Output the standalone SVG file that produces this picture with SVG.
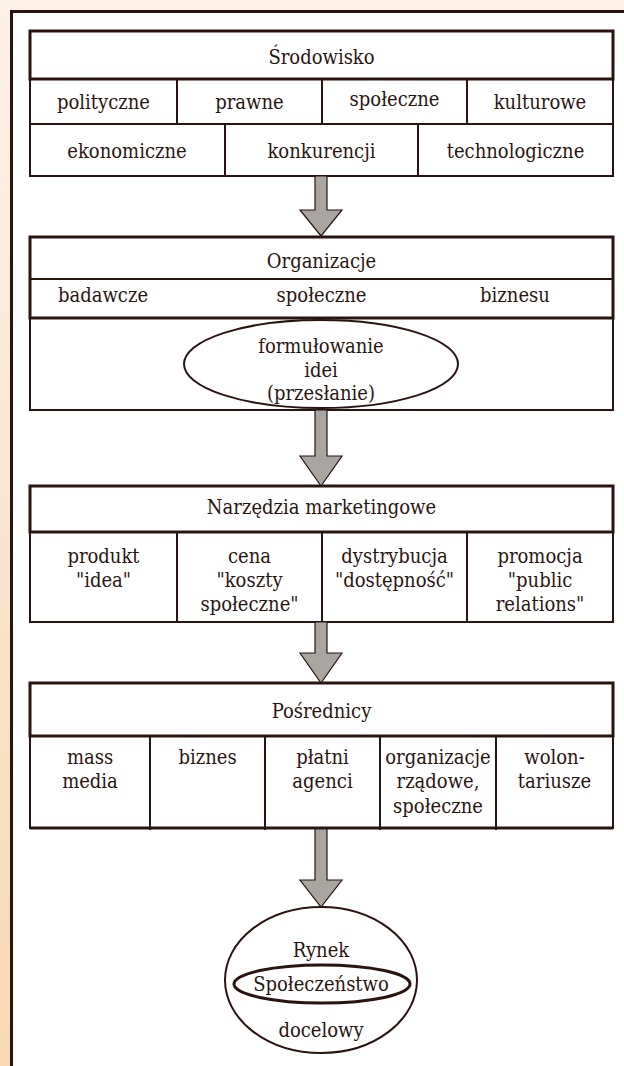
<svg xmlns="http://www.w3.org/2000/svg" width="624" height="1066" viewBox="0 0 624 1066">
  <defs>
    <linearGradient id="bg" x1="0" y1="0" x2="0" y2="1">
      <stop offset="0" stop-color="#fdf1e8"/>
      <stop offset="1" stop-color="#f8d8b6"/>
    </linearGradient>
    <style>
      .thick { fill: #ffffff; stroke: #2a1410; stroke-width: 3; }
      .thin { fill: #ffffff; stroke: #2a1410; stroke-width: 2; }
      .div { stroke: #2a1410; stroke-width: 2; }
      .arrow { fill: #a9a5a1; stroke: #2a1410; stroke-width: 1.2; stroke-linejoin: miter; }
    </style>
  </defs>
  <rect x="0" y="0" width="624" height="1066" fill="url(#bg)"/>
  <rect x="11.5" y="11.5" width="700" height="1100" fill="#ffffff" stroke="#2a1410" stroke-width="3"/>

  <g font-family="DejaVu Serif Condensed, DejaVu Serif, Liberation Serif, serif" font-size="20" fill="#2a1410" text-anchor="middle">
  <g id="srodowisko">
    <rect class="thin" x="30" y="79" width="583" height="97"/>
    <line class="div" x1="30" y1="124" x2="613" y2="124"/>
    <line class="div" x1="177" y1="79" x2="177" y2="124"/>
    <line class="div" x1="322" y1="79" x2="322" y2="124"/>
    <line class="div" x1="467" y1="79" x2="467" y2="124"/>
    <line class="div" x1="225" y1="124" x2="225" y2="176"/>
    <line class="div" x1="418" y1="124" x2="418" y2="176"/>
    <rect class="thick" x="30" y="31" width="583" height="48"/>
    <text x="321.5" y="64">Środowisko</text>
    <text x="103.5" y="109">polityczne</text>
    <text x="249.5" y="109">prawne</text>
    <text x="394.5" y="106">społeczne</text>
    <text x="540" y="109">kulturowe</text>
    <text x="127" y="158">ekonomiczne</text>
    <text x="321.5" y="158">konkurencji</text>
    <text x="515.5" y="158">technologiczne</text>
  </g>

  <g id="organizacje">
    <rect class="thin" x="30" y="318" width="583" height="92"/>
    <rect class="thick" x="30" y="237" width="583" height="81"/>
    <line class="div" x1="30" y1="279" x2="613" y2="279"/>
    <text x="321.5" y="268">Organizacje</text>
    <text x="103" y="302">badawcze</text>
    <text x="321.5" y="302">społeczne</text>
    <text x="515" y="302">biznesu</text>
    <ellipse cx="321" cy="364" rx="137" ry="44" fill="none" stroke="#2a1410" stroke-width="2"/>
    <text x="321" y="353">formułowanie</text>
    <text x="321" y="377">idei</text>
    <text x="321" y="400">(przesłanie)</text>
  </g>

  <g id="narzedzia">
    <rect class="thin" x="30" y="532" width="583" height="90"/>
    <line class="div" x1="177" y1="532" x2="177" y2="622"/>
    <line class="div" x1="322" y1="532" x2="322" y2="622"/>
    <line class="div" x1="467" y1="532" x2="467" y2="622"/>
    <rect class="thick" x="30" y="486" width="583" height="46"/>
    <text x="321.5" y="514">Narzędzia marketingowe</text>
    <text x="103.5" y="563">produkt</text>
    <text x="103.5" y="587">"idea"</text>
    <text x="249.5" y="563">cena</text>
    <text x="249.5" y="587">"koszty</text>
    <text x="249.5" y="611">społeczne"</text>
    <text x="394.5" y="563">dystrybucja</text>
    <text x="394.5" y="587">"dostępność"</text>
    <text x="540" y="563">promocja</text>
    <text x="540" y="587">"public</text>
    <text x="540" y="611">relations"</text>
  </g>

  <g id="posrednicy">
    <rect class="thin" x="30" y="736" width="583" height="92"/>
    <line x1="30" y1="828" x2="613" y2="828" stroke="#2a1410" stroke-width="3"/>
    <line class="div" x1="150" y1="736" x2="150" y2="830"/>
    <line class="div" x1="265" y1="736" x2="265" y2="830"/>
    <line class="div" x1="380" y1="736" x2="380" y2="830"/>
    <line class="div" x1="496" y1="736" x2="496" y2="830"/>
    <rect class="thick" x="30" y="683" width="583" height="53"/>
    <text x="321.5" y="718">Pośrednicy</text>
    <text x="90" y="764">mass</text>
    <text x="90" y="788">media</text>
    <text x="207.5" y="764">biznes</text>
    <text x="322.5" y="764">płatni</text>
    <text x="322.5" y="788">agenci</text>
    <text x="438" y="764">organizacje</text>
    <text x="438" y="788">rządowe,</text>
    <text x="438" y="813">społeczne</text>
    <text x="554.5" y="764">wolon-</text>
    <text x="554.5" y="788">tariusze</text>
  </g>

  <g id="rynek">
    <ellipse cx="321" cy="980" rx="96" ry="73" fill="#ffffff" stroke="#2a1410" stroke-width="2"/>
    <text x="321" y="957">Rynek</text>
    <ellipse cx="322" cy="984" rx="88" ry="19" fill="none" stroke="#2a1410" stroke-width="3"/>
    <text x="321" y="991">Społeczeństwo</text>
    <text x="321" y="1037">docelowy</text>
  </g>
  </g>

  <g id="connectors">
    <polygon class="arrow" points="315,176 327,176 327,210 342,210 321,236 300,210 315,210"/>
    <polygon class="arrow" points="315,410 327,410 327,456 342,456 321,486 300,456 315,456"/>
    <polygon class="arrow" points="315,622 327,622 327,653 342,653 321,683 300,653 315,653"/>
    <polygon class="arrow" points="315,829 327,829 327,880 342,880 321,907 300,880 315,880"/>
  </g>
</svg>
